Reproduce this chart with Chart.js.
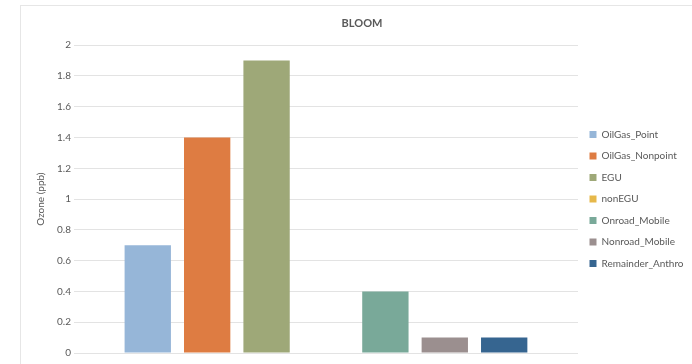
<!DOCTYPE html>
<html>
<head>
<meta charset="utf-8">
<script src="https://cdn.jsdelivr.net/npm/chart.js@4"></script>
<style>
  html, body { margin: 0; padding: 0; background: #fff; overflow: hidden; }
  #frame {
    position: absolute; left: 20px; top: 5px;
    width: 674px; height: 362px;
    border: 1px solid #e6e6e6; box-sizing: border-box;
  }
</style>
</head>
<body>
<div id="frame"><canvas id="ozoneChart" width="672" height="360"></canvas></div>
<script>
const sources = ['OilGas_Point', 'OilGas_Nonpoint', 'EGU', 'nonEGU', 'Onroad_Mobile', 'Nonroad_Mobile', 'Remainder_Anthro'];
const ozone = [0.7, 1.4, 1.9, 0, 0.4, 0.1, 0.1];
const colors = ['#96b6d8', '#de7c42', '#9ea878', '#e6b84a', '#79a999', '#9b8f8f', '#366590'];
const yTicks = [0, 0.2, 0.4, 0.6, 0.8, 1, 1.2, 1.4, 1.6, 1.8, 2];

const textColor = '#595959';
const fontFamily = 'Lato, "Open Sans", sans-serif';

// one category, each source is its own series
const datasets = sources.map((name, i) => ({
    label: name,
    data: [ozone[i]],
    backgroundColor: colors[i],
    borderWidth: 0
}));

const ctx = document.getElementById('ozoneChart').getContext('2d');
new Chart(ctx, {
    type: 'bar',
    data: { labels: [''], datasets: datasets },
    options: {
        responsive: false,
        animation: false,
        categoryPercentage: 0.825,
        barPercentage: 0.78,
        layout: { padding: { left: 10, right: 0, top: 5, bottom: 5 } },
        plugins: {
            title: {
                display: true,
                text: 'BLOOM',
                color: textColor,
                font: { family: fontFamily, size: 11, weight: 'bold' },
                padding: { top: 6, bottom: 15 }
            },
            legend: {
                position: 'right',
                maxWidth: 115,
                title: { display: true, text: '', padding: 7, font: { size: 10 } },
                labels: {
                    color: textColor,
                    font: { family: fontFamily, size: 10 },
                    boxWidth: 7,
                    boxHeight: 7,
                    padding: 11.5
                }
            },
            tooltip: { enabled: false }
        },
        scales: {
            x: {
                grid: { display: false },
                border: { display: false },
                ticks: { display: false }
            },
            y: {
                min: 0,
                max: 2,
                afterBuildTicks: axis => { axis.ticks = yTicks.map(v => ({ value: v })); },
                grid: { color: '#e3e3e3', drawTicks: false },
                border: { display: false },
                ticks: {
                    color: textColor,
                    font: { family: fontFamily, size: 10 },
                    padding: 3,
                    callback: v => String(Math.round(v * 10) / 10)
                },
                title: {
                    display: true,
                    text: 'Ozone (ppb)',
                    color: textColor,
                    font: { family: fontFamily, size: 10 },
                    padding: { top: 4, bottom: 7 }
                }
            }
        }
    }
});
</script>
</body>
</html>
